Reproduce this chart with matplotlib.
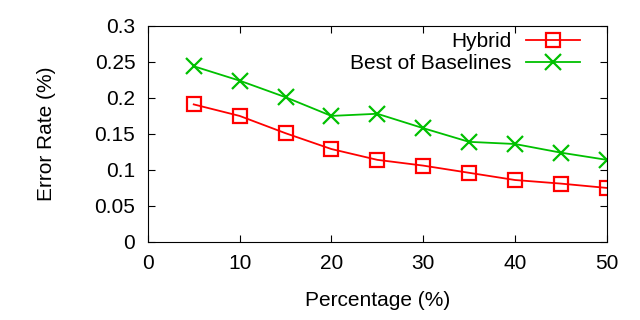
import matplotlib
matplotlib.use('agg')
import matplotlib.pyplot as plt

plt.rcParams['font.family'] = ['Liberation Sans', 'DejaVu Sans']

percentage = [5, 10, 15, 20, 25, 30, 35, 40, 45, 50]
hybrid = [0.191, 0.175, 0.151, 0.129, 0.114, 0.106, 0.096, 0.086, 0.081, 0.075]
best_baselines = [0.244, 0.224, 0.201, 0.175, 0.178, 0.158, 0.139, 0.136, 0.124, 0.114]

fig = plt.figure(figsize=(6.4, 3.2), dpi=100)
ax = fig.add_axes([0.231, 0.244, 0.717, 0.675])

ax.plot(percentage, hybrid, color='#ff0000', marker='s', markersize=10,
        markerfacecolor='none', markeredgewidth=1.6, linewidth=1.3, label='Hybrid')
ax.plot(percentage, best_baselines, color='#00c000', marker='x', markersize=11,
        markeredgewidth=1.6, linewidth=1.3, label='Best of Baselines')

ax.set_xlim(0, 50)
ax.set_ylim(0, 0.3)
ax.set_xticks([0, 10, 20, 30, 40, 50])
ax.set_yticks([0, 0.05, 0.1, 0.15, 0.2, 0.25, 0.3])
ax.set_yticklabels(['0', '0.05', '0.1', '0.15', '0.2', '0.25', '0.3'])
ax.tick_params(direction='in', top=True, right=True, labelsize=15, length=5, pad=9)
ax.set_xlabel('Percentage (%)', fontsize=15, labelpad=13)
ax.set_ylabel('Error Rate (%)', fontsize=15, labelpad=28)

ax.legend(loc='upper right', frameon=False, markerfirst=False, fontsize=15,
          handlelength=2.6, handletextpad=0.7, borderaxespad=0.0,
          borderpad=0.3, labelspacing=0.15, bbox_to_anchor=(0.955, 1.0))

fig.savefig('out.png', dpi=100)
